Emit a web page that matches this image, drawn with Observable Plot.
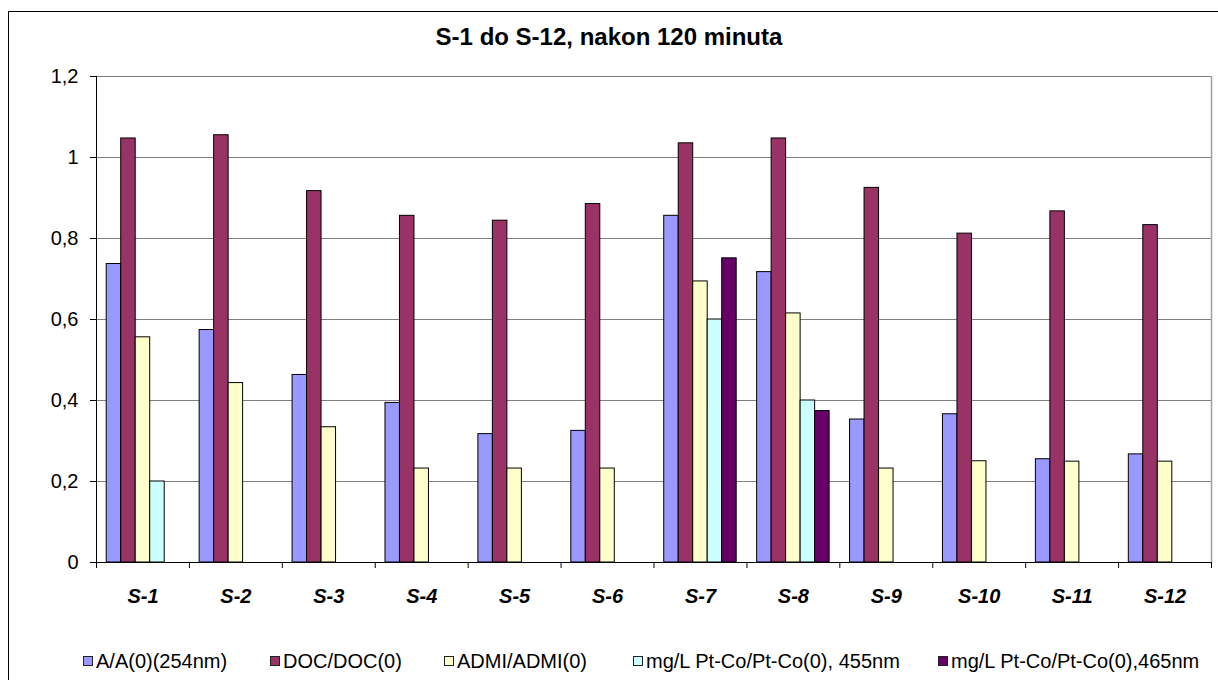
<!DOCTYPE html>
<html><head><meta charset="utf-8">
<script src="https://cdn.jsdelivr.net/npm/d3@7"></script>
<script src="https://cdn.jsdelivr.net/npm/@observablehq/plot@0.6"></script>
<style>
body{margin:0;background:#fff;font-family:Arial,"Liberation Sans",sans-serif;}
#wrap{position:relative;width:1218px;height:680px;overflow:hidden;background:#fff;}
#border{position:absolute;left:8px;top:11px;width:1220px;height:720px;border:1.5px solid #000;box-sizing:border-box;}
#title{position:absolute;top:23px;left:0;width:1218px;text-align:center;font-weight:bold;font-size:24px;line-height:28px;color:#000;}
#chart{position:absolute;left:0;top:0;}
#legend{position:absolute;top:649px;left:0;width:1218px;height:24px;font-size:20px;color:#000;}
.item{position:absolute;top:0;height:24px;line-height:24px;display:flex;align-items:center;white-space:nowrap;}
.sw{width:8px;height:8px;border:1px solid #222;margin-right:3px;}
</style>
</head><body>
<div id="wrap">
  <div id="border"></div>
  <div id="chart"></div>
  <div id="title"></div>
  <div id="legend"></div>
</div>
<script>
const titleText = "S-1 do S-12, nakon 120 minuta";
const categories = ["S-1","S-2","S-3","S-4","S-5","S-6","S-7","S-8","S-9","S-10","S-11","S-12"];
const seriesNames = ["A/A(0)(254nm)","DOC/DOC(0)","ADMI/ADMI(0)","mg/L Pt-Co/Pt-Co(0), 455nm","mg/L Pt-Co/Pt-Co(0),465nm"];
const seriesColors = ["#9999FF","#993366","#FFFFCC","#CCFFFF","#660066"];
const A254   = [0.737,0.574,0.463,0.394,0.317,0.325,0.856,0.717,0.353,0.366,0.255,0.267];
const DOC    = [1.047,1.055,0.917,0.856,0.844,0.885,1.035,1.047,0.925,0.812,0.867,0.833];
const ADMI   = [0.556,0.443,0.334,0.232,0.232,0.232,0.694,0.615,0.232,0.250,0.249,0.249];
const PtCo455 = [0.200,null,null,null,null,null,0.600,0.400,null,null,null,null];
const PtCo465 = [null,null,null,null,null,null,0.751,0.374,null,null,null,null];
const yTicks = [0,0.2,0.4,0.6,0.8,1.0,1.2];
const yTickLabels = ["0","0,2","0,4","0,6","0,8","1","1,2"];

const seriesValues = [A254, DOC, ADMI, PtCo455, PtCo465];
const rows = [];
seriesValues.forEach((vals, s) => vals.forEach((v, i) => {
  if (v != null) rows.push({cat: categories[i], ci: i, series: seriesNames[s], si: s, value: v});
}));

// cluster layout in category units (like a band scale with group padding)
const nS = seriesNames.length;
const barW = 0.156;
const groupOff = (1 - nS * barW) / 2;

document.getElementById("title").textContent = titleText;

const chart = Plot.plot({
  width: 1218, height: 610,
  marginTop: 76, marginLeft: 96, marginRight: 7, marginBottom: 48,
  style: {fontFamily: "Arial, 'Liberation Sans', sans-serif", background: "transparent", color: "#000"},
  x: {domain: [0, categories.length], axis: null},
  y: {domain: [0, 1.2], axis: null},
  color: {domain: seriesNames, range: seriesColors},
  marks: [
    Plot.gridY(yTicks.slice(1), {stroke: "#808080", strokeOpacity: 1, strokeWidth: 1}),
    Plot.ruleX([categories.length], {stroke: "#a0a0a0", strokeWidth: 1.5}),
    Plot.rectY(rows, {
      x1: d => d.ci + groupOff + d.si * barW,
      x2: d => d.ci + groupOff + (d.si + 1) * barW,
      y1: 0, y2: "value",
      fill: "series", stroke: "#000", strokeWidth: 1
    }),
    Plot.ruleY([0], {stroke: "#000", strokeWidth: 1}),
    Plot.ruleX([0], {stroke: "#000", strokeWidth: 1}),
    Plot.axisY(yTicks, {
      tickSize: 6, tickPadding: 12, fontSize: 20, stroke: "#000",
      tickFormat: (d) => yTickLabels[yTicks.indexOf(d)], label: null
    }),
    Plot.axisX(d3.range(categories.length + 1), {
      tickSize: 6, tickFormat: () => "", label: null, stroke: "#000"
    }),
    Plot.axisX(categories.map((c, i) => i + 0.5), {
      tickSize: 0, tickPadding: 26, fontSize: 20, fontWeight: "bold", fontStyle: "italic",
      tickFormat: d => categories[Math.floor(d)], label: null
    })
  ]
});
document.getElementById("chart").appendChild(chart);

const legendLeft = [83, 270, 444, 633, 938];
const legend = document.getElementById("legend");
seriesNames.forEach((n, i) => {
  const it = document.createElement("div");
  it.className = "item";
  it.style.left = legendLeft[i] + "px";
  const sw = document.createElement("span");
  sw.className = "sw";
  sw.style.background = seriesColors[i];
  const tx = document.createElement("span");
  tx.textContent = n;
  it.appendChild(sw); it.appendChild(tx);
  legend.appendChild(it);
});
</script>
</body></html>
